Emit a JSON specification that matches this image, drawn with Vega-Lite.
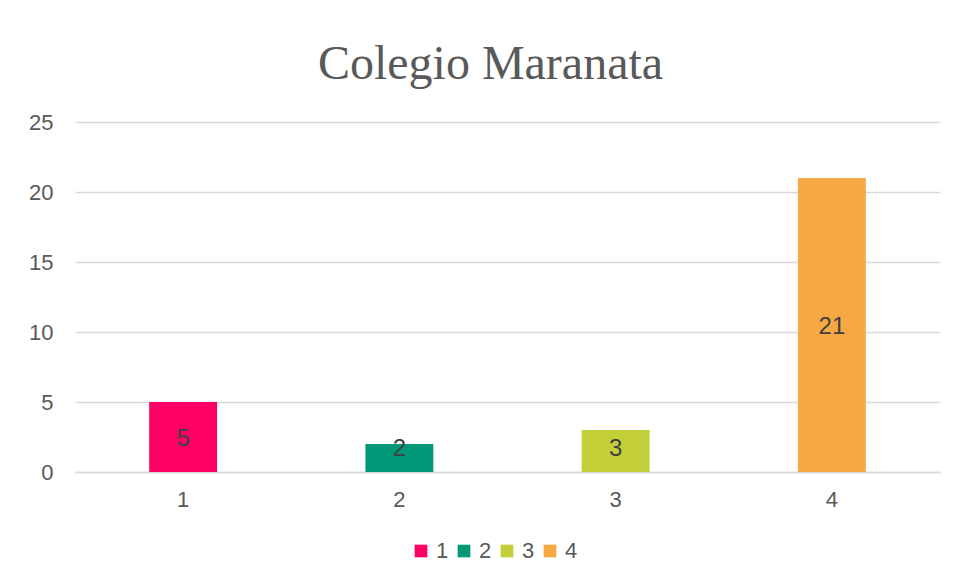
{
  "$schema": "https://vega.github.io/schema/vega-lite/v6.json",
  "width": 865,
  "height": 350,
  "padding": {"left": 75, "top": 122, "right": 16, "bottom": 110},
  "autosize": {"type": "none"},
  "background": "white",
  "title": {
    "text": "Colegio Maranata",
    "font": "Liberation Serif",
    "fontSize": 48,
    "fontWeight": "normal",
    "color": "#595959",
    "anchor": "middle",
    "frame": "group",
    "dx": -17,
    "offset": 22
  },
  "data": {
    "values": [
      {"category": "1", "value": 5},
      {"category": "2", "value": 2},
      {"category": "3", "value": 3},
      {"category": "4", "value": 21}
    ]
  },
  "transform": [{"calculate": "max(datum.value / 2, 1.8)", "as": "labelPos"}],
  "encoding": {
    "x": {
      "field": "category",
      "type": "nominal",
      "sort": null,
      "scale": {"paddingInner": 0.686, "paddingOuter": 0.343},
      "axis": {
        "title": null,
        "labelAngle": 0,
        "labelFont": "Liberation Sans",
        "labelFontSize": 22,
        "labelColor": "#595959",
        "labelPadding": 17,
        "ticks": false,
        "domainColor": "#d9d9d9",
        "domainWidth": 1.5,
        "grid": false
      }
    }
  },
  "layer": [
    {
      "mark": {"type": "bar"},
      "encoding": {
        "y": {
          "field": "value",
          "type": "quantitative",
          "scale": {"domain": [0, 25], "nice": false},
          "axis": {
            "title": null,
            "values": [0, 5, 10, 15, 20, 25],
            "labelFont": "Liberation Sans",
            "labelFontSize": 22,
            "labelColor": "#595959",
            "labelPadding": 22,
            "ticks": false,
            "domain": false,
            "gridColor": "#d9d9d9",
            "gridWidth": 1.5
          }
        },
        "color": {
          "field": "category",
          "type": "nominal",
          "sort": null,
          "scale": {
            "domain": ["1", "2", "3", "4"],
            "range": ["#FF0066", "#009877", "#C3CF38", "#F7A845"]
          },
          "legend": {
            "title": null,
            "orient": "none",
            "direction": "horizontal",
            "legendX": 335,
            "legendY": 418,
            "symbolType": "square",
            "symbolSize": 160,
            "symbolStrokeWidth": 0,
            "labelFont": "Liberation Sans",
            "labelFontSize": 22,
            "labelColor": "#595959",
            "labelOffset": 4,
            "columnPadding": 4,
            "padding": 0
          }
        }
      }
    },
    {
      "mark": {
        "type": "text",
        "font": "Liberation Sans",
        "fontSize": 24,
        "color": "#404040",
        "baseline": "middle",
        "align": "center",
        "dy": 2
      },
      "encoding": {
        "y": {"field": "labelPos", "type": "quantitative"},
        "text": {"field": "value", "type": "quantitative"}
      }
    }
  ],
  "config": {
    "view": {"stroke": null}
  }
}
